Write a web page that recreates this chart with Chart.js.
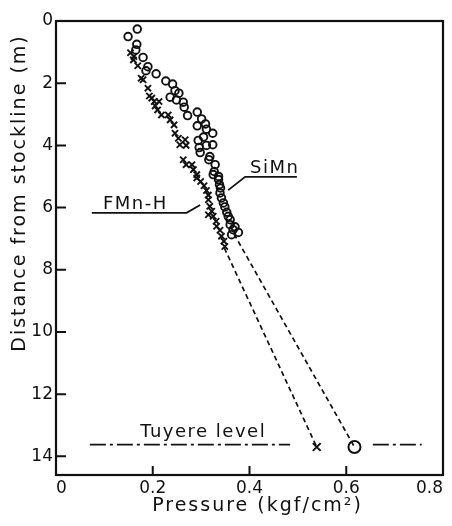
<!DOCTYPE html>
<html>
<head>
<meta charset="utf-8">
<script src="https://cdn.jsdelivr.net/npm/chart.js@4.4.1/dist/chart.umd.min.js"></script>
<style>
  html, body { margin: 0; padding: 0; background: #fff; }
  #wrap { width: 452px; height: 526px; }
</style>
</head>
<body>
<div id="wrap"><canvas id="pressureChart"></canvas></div>
<script>
// Values: pressure (kgf/cm2) against depth below stockline (m)
const simnPressure = [0.168, 0.149, 0.167, 0.165, 0.180, 0.190, 0.186, 0.207, 0.227, 0.241,
                      0.246, 0.254, 0.236, 0.249, 0.263, 0.265, 0.272, 0.292, 0.301, 0.309,
                      0.292, 0.311, 0.324, 0.305, 0.294, 0.311, 0.324, 0.296, 0.298, 0.318,
                      0.316, 0.329, 0.327, 0.336, 0.325, 0.336, 0.338, 0.340, 0.339, 0.342,
                      0.346, 0.349, 0.353, 0.356, 0.360, 0.360, 0.370, 0.366, 0.377, 0.363];
const simnDistance = [0.26, 0.50, 0.75, 0.93, 1.17, 1.47, 1.60, 1.70, 1.93, 2.03,
                      2.24, 2.32, 2.45, 2.54, 2.61, 2.77, 3.04, 2.93, 3.15, 3.31,
                      3.37, 3.48, 3.61, 3.73, 3.84, 4.00, 3.98, 4.07, 4.23, 4.36,
                      4.46, 4.62, 4.84, 5.00, 4.94, 5.10, 5.26, 5.37, 5.53, 5.69,
                      5.85, 5.98, 6.15, 6.28, 6.39, 6.55, 6.62, 6.71, 6.80, 6.87];

const fmnPressure = [0.154, 0.161, 0.160, 0.169, 0.176, 0.180, 0.190, 0.193, 0.198, 0.203,
                     0.213, 0.205, 0.210, 0.218, 0.232, 0.236, 0.244, 0.246, 0.253, 0.267,
                     0.256, 0.269, 0.263, 0.269, 0.281, 0.284, 0.291, 0.291, 0.299, 0.306,
                     0.311, 0.315, 0.315, 0.318, 0.322, 0.315, 0.325, 0.331, 0.332, 0.339,
                     0.342, 0.347, 0.349];
const fmnDistance = [1.02, 1.14, 1.25, 1.44, 1.84, 1.89, 2.16, 2.41, 2.48, 2.59,
                     2.59, 2.73, 2.86, 3.02, 3.02, 3.18, 3.34, 3.61, 3.77, 3.82,
                     3.98, 4.00, 4.46, 4.62, 4.62, 4.78, 4.94, 5.05, 5.16, 5.30,
                     5.45, 5.60, 5.75, 5.96, 6.12, 6.23, 6.28, 6.44, 6.60, 6.73,
                     6.92, 7.08, 7.25];

// dashed extrapolation down to the tuyeres
const simnTuyerePressure = [0.368, 0.617];
const simnTuyereDistance = [6.85, 13.7];
const fmnTuyerePressure = [0.348, 0.539];
const fmnTuyereDistance = [7.3, 13.7];

// tuyere level dash-dot line
const tuyereLevel = 13.62;
const tuyereLeftX = [0.07, 0.484];
const tuyereRightX = [0.655, 0.756];

const xTicks = [0, 0.2, 0.4, 0.6, 0.8];
const yTicks = [0, 2, 4, 6, 8, 10, 12, 14];

const INK = '#111';
const FONT = '"DejaVu Sans", "Liberation Sans", sans-serif';

function toPoints(xs, ys) {
    return xs.map((x, i) => ({ x: x, y: ys[i] }));
}

// text + leader lines, positions given in data units
const annotations = [
    { text: 'FMn-H', at: [0.097, 6.03], leader: [[0.074, 6.17], [0.270, 6.17], [0.298, 5.92]] },
    { text: 'SiMn', at: [0.401, 4.90], leader: [[0.498, 5.01], [0.391, 5.01], [0.356, 5.44]] },
    { text: 'Tuyere level', at: [0.174, 13.37], leader: [] }
];

const paperPlugin = {
    id: 'paper',
    beforeDraw(chart) {
        const ctx = chart.ctx;
        ctx.save();
        ctx.fillStyle = '#fff';
        ctx.fillRect(0, 0, chart.width, chart.height);
        ctx.restore();
    },
    afterDatasetsDraw(chart) {
        const ctx = chart.ctx;
        const a = chart.chartArea;
        const xs = chart.scales.x;
        const ys = chart.scales.y;
        ctx.save();
        ctx.strokeStyle = INK;
        ctx.lineWidth = 2.2;
        ctx.strokeRect(a.left, a.top, a.right - a.left, a.bottom - a.top);

        // inward ticks
        ctx.lineWidth = 2;
        ctx.beginPath();
        yTicks.forEach(v => {
            if (v === 0) return;
            const py = ys.getPixelForValue(v);
            ctx.moveTo(a.left - 1, py);
            ctx.lineTo(a.left + 10, py);
        });
        xTicks.forEach(v => {
            if (v === 0 || v === 0.8) return;
            const px = xs.getPixelForValue(v);
            ctx.moveTo(px, a.bottom + 1);
            ctx.lineTo(px, a.bottom - 9);
        });
        ctx.stroke();
        ctx.restore();
    },
    afterDraw(chart) {
        const ctx = chart.ctx;
        const xs = chart.scales.x;
        const ys = chart.scales.y;
        const a = chart.chartArea;
        ctx.save();
        ctx.fillStyle = INK;
        ctx.strokeStyle = INK;
        ctx.lineWidth = 1.8;
        ctx.letterSpacing = '1.5px';
        ctx.font = '18px ' + FONT;
        ctx.textAlign = 'left';
        ctx.textBaseline = 'alphabetic';

        annotations.forEach(an => {
            ctx.fillText(an.text, xs.getPixelForValue(an.at[0]), ys.getPixelForValue(an.at[1]));
            if (an.leader.length) {
                ctx.beginPath();
                an.leader.forEach((p, i) => {
                    const px = xs.getPixelForValue(p[0]);
                    const py = ys.getPixelForValue(p[1]);
                    if (i === 0) ctx.moveTo(px, py); else ctx.lineTo(px, py);
                });
                ctx.stroke();
            }
        });

        // axis titles
        ctx.letterSpacing = '2px';
        ctx.font = '19px ' + FONT;
        ctx.textAlign = 'center';
        ctx.fillText('Pressure (kgf/cm\u00b2)', (a.left + a.right) / 2 + 8, 511);

        ctx.translate(25, 193);
        ctx.rotate(-Math.PI / 2);
        ctx.fillText('Distance from stockline (m)', 0, 0);
        ctx.restore();
    }
};

const ctx = document.getElementById('pressureChart');

new Chart(ctx, {
    type: 'scatter',
    data: {
        datasets: [
            {
                label: 'SiMn',
                data: toPoints(simnPressure, simnDistance),
                pointStyle: 'circle',
                pointRadius: 3.8,
                borderWidth: 1.9,
                borderColor: INK,
                backgroundColor: 'rgba(0,0,0,0)'
            },
            {
                label: 'FMn-H',
                data: toPoints(fmnPressure, fmnDistance),
                pointStyle: 'crossRot',
                pointRadius: 4.4,
                borderWidth: 1.9,
                borderColor: INK,
                backgroundColor: INK
            },
            {
                label: 'SiMn to tuyere',
                data: toPoints(simnTuyerePressure, simnTuyereDistance),
                showLine: true,
                borderColor: INK,
                borderWidth: 1.7,
                borderDash: [5, 3.5],
                pointStyle: 'circle',
                pointRadius: [0, 6],
                pointBorderWidth: 2,
                backgroundColor: 'rgba(0,0,0,0)',
                clip: false
            },
            {
                label: 'FMn-H to tuyere',
                data: toPoints(fmnTuyerePressure, fmnTuyereDistance),
                showLine: true,
                borderColor: INK,
                borderWidth: 1.7,
                borderDash: [5, 3.5],
                pointStyle: 'crossRot',
                pointRadius: [0, 5.5],
                pointBorderWidth: 2,
                backgroundColor: INK
            },
            {
                label: 'Tuyere level',
                data: tuyereLeftX.map(x => ({ x: x, y: tuyereLevel })),
                showLine: true,
                borderColor: INK,
                borderWidth: 1.8,
                borderDash: [16, 4, 3, 4],
                pointRadius: 0
            },
            {
                label: 'Tuyere level (right)',
                data: tuyereRightX.map(x => ({ x: x, y: tuyereLevel })),
                showLine: true,
                borderColor: INK,
                borderWidth: 1.8,
                borderDash: [16, 4, 3, 4],
                pointRadius: 0
            }
        ]
    },
    options: {
        responsive: true,
        maintainAspectRatio: false,
        animation: false,
        layout: { padding: { top: 21, right: 9, left: 0, bottom: 0 } },
        plugins: {
            legend: { display: false },
            tooltip: { enabled: false }
        },
        scales: {
            x: {
                type: 'linear',
                min: 0,
                max: 0.8,
                grid: { display: false, drawTicks: false },
                border: { display: false },
                afterBuildTicks: s => { s.ticks = xTicks.map(v => ({ value: v })); },
                afterFit: s => { s.height = 51; },
                ticks: {
                    align: 'inner',
                    padding: 3,
                    color: INK,
                    font: { family: FONT, size: 17 },
                    callback: v => (v === 0 ? '0' : v.toFixed(1))
                }
            },
            y: {
                type: 'linear',
                min: 0,
                max: 14.6,
                reverse: true,
                grid: { display: false, drawTicks: false },
                border: { display: false },
                afterBuildTicks: s => { s.ticks = yTicks.map(v => ({ value: v })); },
                afterFit: s => { s.width = 56; },
                ticks: {
                    padding: 3,
                    color: INK,
                    font: { family: FONT, size: 17 },
                    callback: v => String(v)
                }
            }
        }
    },
    plugins: [paperPlugin]
});
</script>
</body>
</html>
